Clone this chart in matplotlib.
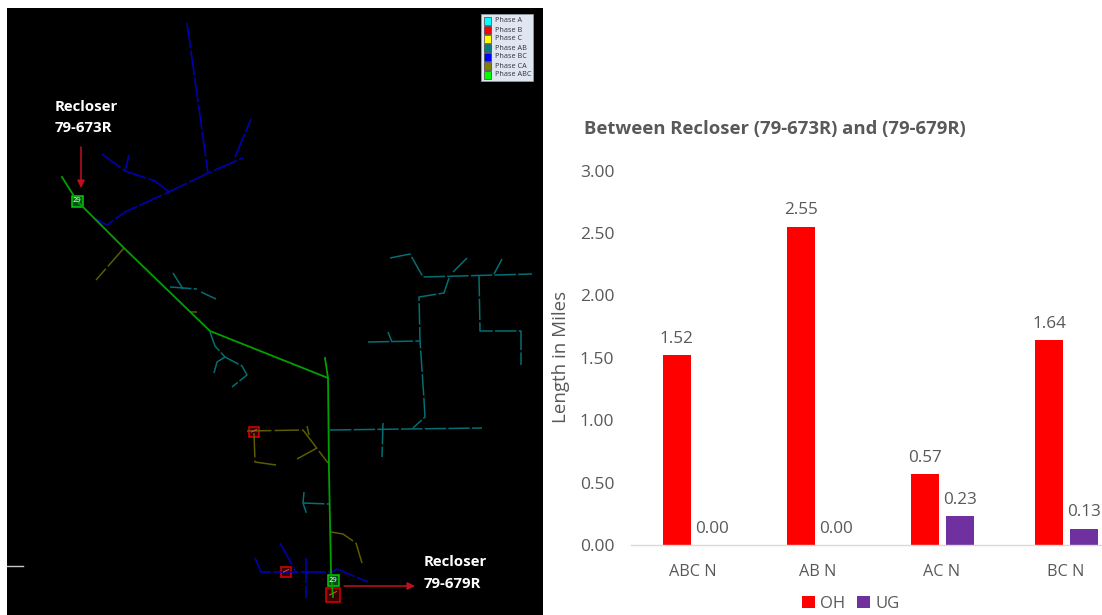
import matplotlib
matplotlib.use('Agg')
import matplotlib.pyplot as plt
from matplotlib.patches import Rectangle

plt.rcParams['font.family'] = ['Open Sans', 'DejaVu Sans']

W, H = 1102, 615

# bar chart values
categories = ['ABC N', 'AB N', 'AC N', 'BC N']
oh_values = [1.52, 2.55, 0.57, 1.64]
ug_values = [0.00, 0.00, 0.23, 0.13]
y_ticks = [0, 0.5, 1, 1.5, 2, 2.5, 3]

# map legend
phase_names = ['Phase A', 'Phase B', 'Phase C', 'Phase AB', 'Phase BC', 'Phase CA', 'Phase ABC']
phase_colors = ['#00ffff', '#ff0000', '#ffff00', '#008080', '#0000ff', '#808000', '#00ff00']

# feeder lines in image pixels
abc_lines = [
    [(62, 177), (77, 201), (124, 248), (210, 331), (328, 378), (329, 472), (331, 572), (333, 597)],
    [(325, 358), (328, 378)],
]
bc_lines = [
    [(187, 23), (208, 173)],
    [(92, 217), (107, 225), (125, 212), (169, 192), (208, 173), (243, 158)],
    [(235, 157), (251, 119)],
    [(169, 192), (155, 181), (125, 171), (102, 154)],
    [(125, 171), (129, 155)],
    [(255, 558), (261, 572), (332, 572)],
    [(280, 543), (296, 572)],
    [(306, 558), (306, 598)],
    [(332, 572), (337, 569), (368, 582)],
]
ab_lines = [
    [(173, 273), (183, 289)],
    [(170, 287), (197, 289)],
    [(201, 292), (216, 299)],
    [(210, 332), (215, 346), (225, 357), (242, 366), (247, 375), (232, 387)],
    [(225, 357), (217, 362), (214, 373)],
    [(390, 258), (410, 254), (423, 277), (532, 274)],
    [(453, 272), (467, 258)],
    [(494, 274), (502, 259)],
    [(449, 278), (444, 293), (419, 297), (420, 340), (424, 400), (425, 417), (413, 428)],
    [(479, 275), (480, 331), (521, 331), (521, 365)],
    [(368, 342), (420, 341)],
    [(388, 332), (392, 342)],
    [(330, 430), (482, 428)],
    [(383, 423), (382, 457)],
    [(304, 492), (303, 503), (307, 515)],
    [(303, 503), (329, 504)],
]
ca_lines = [
    [(124, 248), (96, 280)],
    [(190, 312), (197, 312)],
    [(247, 431), (303, 430), (328, 463)],
    [(307, 426), (309, 435)],
    [(317, 448), (297, 459)],
    [(254, 433), (255, 462), (276, 465)],
    [(331, 532), (343, 534), (356, 543), (362, 563)],
]
red_boxes = [(254, 432, 10), (286, 572, 10), (333, 595, 14)]
green_boxes = [(77, 201, 11), (333, 580, 11)]

fig = plt.figure(figsize=(W / 100, H / 100), dpi=100, facecolor='white')

# left panel, whole figure in pixels
mp = fig.add_axes([0, 0, 1, 1])
mp.set_xlim(0, W)
mp.set_ylim(H, 0)
mp.axis('off')
mp.add_patch(Rectangle((7, 8), 536, 607, fc='black', ec='none'))
mp.plot([7, 23], [566, 566], color='#c8c8c8', lw=1)


def draw(lines, color, lw, dash=None):
    for ln in lines:
        xs = [p[0] for p in ln]
        ys = [p[1] for p in ln]
        l, = mp.plot(xs, ys, color=color, lw=lw, solid_joinstyle='round')
        if dash:
            l.set_linestyle((0, dash))


draw(ab_lines, '#046e72', 1.1, (14, 1.5))
draw(ca_lines, '#5c5c00', 1.1, (16, 2))
draw(bc_lines, '#0000b0', 1.2, (15, 1.5))
draw(abc_lines, '#00a000', 1.3)

for x, y, s in red_boxes:
    mp.add_patch(Rectangle((x - s / 2, y - s / 2), s, s, fc='#3a0000', ec='#e00000', lw=1.1))
    mp.plot([x - s / 4, x + s / 4], [y, y - s / 4], color='#e05050', lw=0.7)
for x, y, s in green_boxes:
    mp.add_patch(Rectangle((x - s / 2, y - s / 2), s, s, fc='#0a4a20', ec='#00d000', lw=1.1))
    mp.text(x, y, '29', color='white', fontsize=5.5, ha='center', va='center')

mp.annotate('', xy=(81, 188), xytext=(81, 147),
            arrowprops=dict(arrowstyle='-|>', color='#c01020', lw=1.1, mutation_scale=11, shrinkA=0, shrinkB=0))
mp.annotate('', xy=(415, 586), xytext=(344, 586),
            arrowprops=dict(arrowstyle='-|>', color='#c01020', lw=1.1, mutation_scale=11, shrinkA=0, shrinkB=0))
mp.text(55, 107, 'Recloser', color='white', fontsize=10.8, fontweight='bold', va='center')
mp.text(55, 128, '79-673R', color='white', fontsize=10.8, fontweight='bold', va='center')
mp.text(424, 562, 'Recloser', color='white', fontsize=10.8, fontweight='bold', va='center')
mp.text(424, 584, '79-679R', color='white', fontsize=10.8, fontweight='bold', va='center')

# phase legend box
mp.add_patch(Rectangle((481, 14), 52, 67, fc='#dfe6f2', ec='#9aa4b0', lw=0.5))
for i, (name, col) in enumerate(zip(phase_names, phase_colors)):
    y = 21 + i * 9
    mp.add_patch(Rectangle((484, y - 4), 7, 8, fc=col, ec='#404040', lw=0.5))
    mp.text(495, y, name, fontsize=5.2, color='#303040', va='center')

# bar chart
left, right, bottom, top = 631, 1102, 545, 170.6
ax = fig.add_axes([left / W, 1 - bottom / H, (right - left) / W, (bottom - top) / H])
ax.patch.set_alpha(0)
xs = list(range(len(categories)))
bw = 0.225
b1 = ax.bar([x - 0.133 for x in xs], oh_values, bw, color='#ff0000', label='OH')
b2 = ax.bar([x + 0.149 for x in xs], ug_values, bw, color='#7030a0', label='UG')
ax.bar_label(b1, fmt='%.2f', padding=6, fontsize=12.3, color='#595959')
ax.bar_label(b2, fmt='%.2f', padding=6, fontsize=12.3, color='#595959')
ax.set_xlim(-0.5, 3.29)
ax.set_ylim(0, 3)
ax.set_xticks(xs)
ax.set_xticklabels(categories, fontsize=11.7, color='#595959')
ax.set_yticks(y_ticks)
ax.set_yticklabels(['%.2f' % v for v in y_ticks], fontsize=12.5, color='#595959')
ax.tick_params(length=0)
ax.tick_params(axis='x', pad=14)
ax.tick_params(axis='y', pad=12)
for s in ['top', 'right', 'left']:
    ax.spines[s].set_visible(False)
ax.spines['bottom'].set_color('#d9d9d9')
ax.spines['bottom'].set_linewidth(1)

fig.text(584 / W, 1 - 129 / H, 'Between Recloser (79-673R) and (79-679R)', fontsize=13.3,
         fontweight='bold', color='#595959', va='center')
fig.text(561 / W, 1 - 357 / H, 'Length in Miles', fontsize=13.5, color='#595959',
         rotation=90, ha='center', va='center')
fig.legend(handles=[b1, b2], loc='center', bbox_to_anchor=(851 / W, 1 - 604 / H), ncol=2, frameon=False,
           fontsize=12, labelcolor='#595959', handlelength=0.75, handleheight=0.75,
           handletextpad=0.35, columnspacing=0.7, borderpad=0)

fig.savefig('out.png', dpi=100)
